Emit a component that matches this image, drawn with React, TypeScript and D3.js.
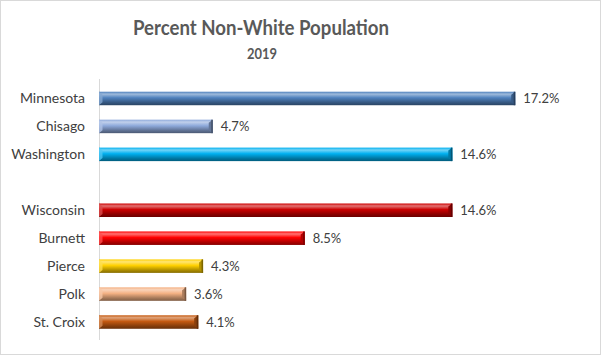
import React from "react";
import * as d3 from "d3";

const categories = ["Minnesota", "Chisago", "Washington", "", "Wisconsin", "Burnett", "Pierce", "Polk", "St. Croix"];
const values: (number | null)[] = [17.2, 4.7, 14.6, null, 14.6, 8.5, 4.3, 3.6, 4.1];
const baseColors = ["#4f81bd", "#8ea9db", "#00b0f0", "#ffffff", "#cc0000", "#ff0000", "#ffd000", "#f4b183", "#c55a11"];
const title = "Percent Non-White Population";
const subtitle = "2019";

const W = 601, H = 355;
const FONT = "Lato, 'Open Sans', sans-serif";

export default function App() {
  const keys = categories.map((c, i) => `${i}:${c}`);
  const x = d3.scaleLinear().domain([0, 20]).range([99, 583]);
  const y = d3.scaleBand().domain(keys).range([84.5, 336]).padding(0);
  const barH = 13.5;

  return (
    <svg width={W} height={H} style={{ position: "absolute", left: 0, top: 0 }} xmlns="http://www.w3.org/2000/svg">
      <defs>
        {baseColors.map((c, i) => {
          const base = d3.color(c)!;
          const light = d3.interpolateRgb(c, "#ffffff")(0.45);
          const dark = (d3.color(c) as d3.RGBColor).darker(1.1).formatHex();
          const darker = (d3.color(c) as d3.RGBColor).darker(1.8).formatHex();
          return (
            <linearGradient key={i} id={`g${i}`} x1="0" y1="0" x2="0" y2="1">
              <stop offset="0%" stopColor={base.formatHex()} />
              <stop offset="18%" stopColor={light} />
              <stop offset="45%" stopColor={base.formatHex()} />
              <stop offset="80%" stopColor={dark} />
              <stop offset="100%" stopColor={darker} />
            </linearGradient>
          );
        })}
      </defs>
      <rect x={0.5} y={0.5} width={W - 1} height={H - 1} fill="#ffffff" stroke="#d9d9d9" />
      <text x={261} y={35} textAnchor="middle" fontFamily={FONT} fontWeight="bold" fontSize={20.5} fill="#595959" textLength={256} lengthAdjust="spacingAndGlyphs">{title}</text>
      <text x={262} y={59} textAnchor="middle" fontFamily={FONT} fontWeight="bold" fontSize={15} fill="#595959" textLength={30} lengthAdjust="spacingAndGlyphs">{subtitle}</text>
      <line x1={99.5} x2={99.5} y1={79} y2={340} stroke="#d9d9d9" />
      {keys.map((k, i) => {
        const v = values[i];
        const cy = y(k)! + y.bandwidth() / 2;
        const top = cy - barH / 2;
        const bot = cy + barH / 2;
        return (
          <g key={k}>
            {categories[i] && (
              <text x={85} y={cy + 5} textAnchor="end" fontFamily={FONT} fontSize={14} fill="#404040">{categories[i]}</text>
            )}
            {v != null && (() => {
              const x0 = x(0), x1 = x(v);
              const c = baseColors[i];
              const capDark = (d3.color(c) as d3.RGBColor).darker(2).formatHex();
              const capMid = (d3.color(c) as d3.RGBColor).darker(1).formatHex();
              const leftLight = d3.interpolateRgb(c, "#ffffff")(0.3);
              return (
                <g>
                  <rect x={x0} y={top} width={x1 - x0} height={barH} fill={`url(#g${i})`} />
                  <polygon points={`${x0},${top} ${x0 + 3.5},${top + 3} ${x0 + 3.5},${bot - 3} ${x0},${bot}`} fill={leftLight} opacity={0.8} />
                  <polygon points={`${x1},${top} ${x1 - 4},${top + 3} ${x1 - 4},${bot - 3} ${x1},${bot}`} fill={capMid} />
                  <rect x={x1 - 1.5} y={top} width={1.5} height={barH} fill={capDark} />
                  <text x={x1 + 8} y={cy + 4.5} fontFamily={FONT} fontSize={13} fill="#404040">{`${v.toFixed(1)}%`}</text>
                </g>
              );
            })()}
          </g>
        );
      })}
    </svg>
  );
}
